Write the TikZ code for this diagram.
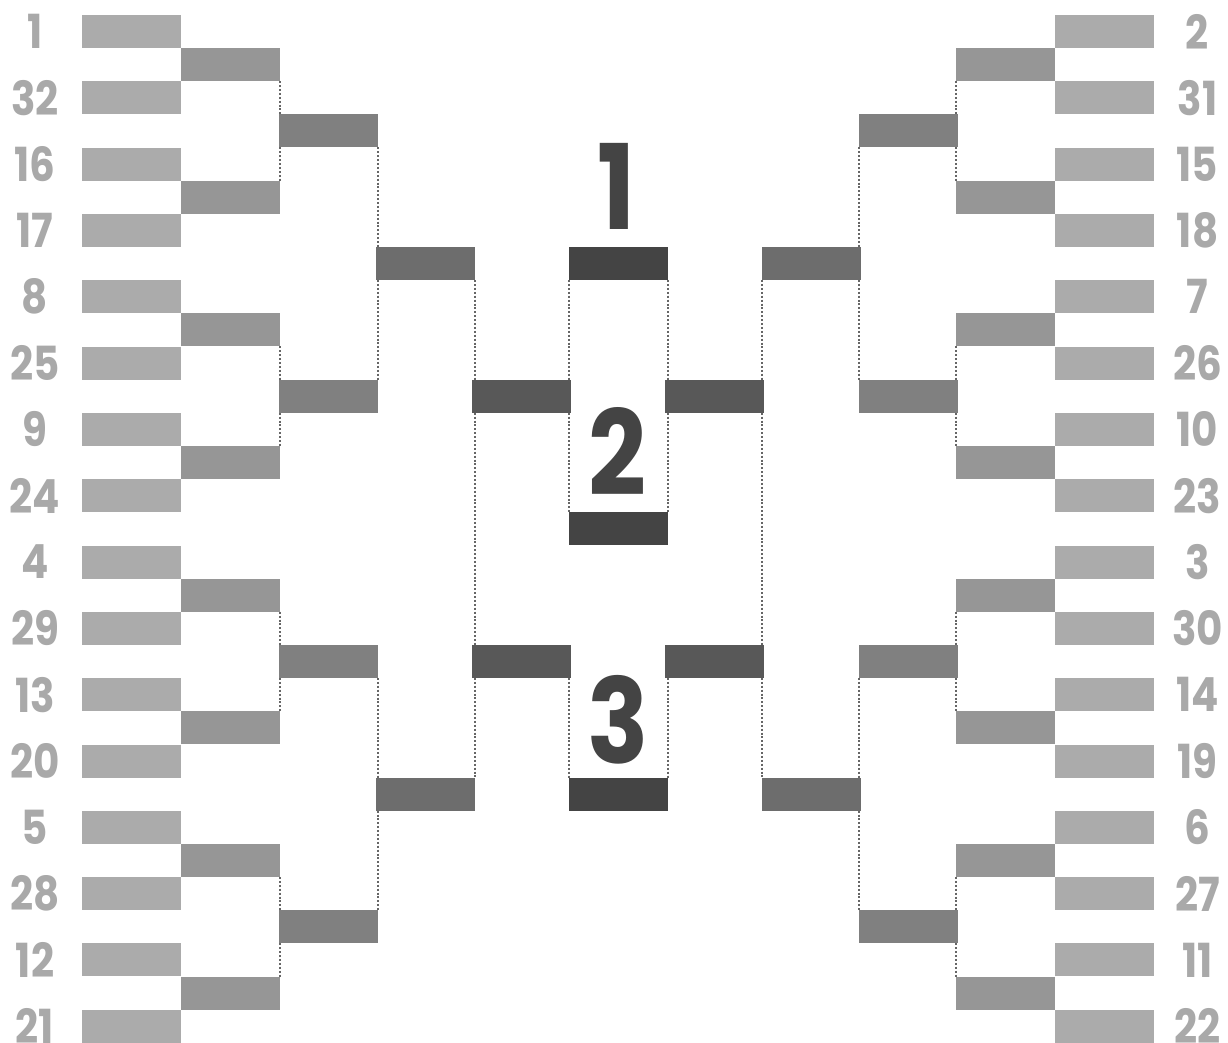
\documentclass[tikz,border=0pt]{standalone}
\usepackage{fontspec}
\newfontfamily\numfont{Poppins}[FakeStretch=0.86]
\usetikzlibrary{backgrounds}
\definecolor{rA}{HTML}{ABABAB}
\definecolor{rB}{HTML}{969696}
\definecolor{rC}{HTML}{808080}
\definecolor{rD}{HTML}{6D6D6D}
\definecolor{rE}{HTML}{585858}
\definecolor{rF}{HTML}{444444}
\definecolor{labc}{HTML}{A9A9A9}
\definecolor{dotc}{HTML}{666666}
\tikzset{
  box/.style={rectangle, inner sep=0pt, outer sep=0pt, minimum width=99pt, minimum height=33pt, anchor=north west},
  seedlab/.style={inner sep=0pt, anchor=center, text=labc, font=\numfont\bfseries\fontsize{47}{47}\selectfont},
  bignum/.style={inner sep=0pt, anchor=center, text=rF, font=\numfont\bfseries\fontsize{118}{118}\selectfont},
  conn/.style={draw=dotc, line width=2pt, dash pattern=on 2pt off 1.9pt}
}
\begin{document}
\begin{tikzpicture}[x=1pt,y=-1pt]
\useasboundingbox (0,0) rectangle (1228,1043);
% left side
\foreach \lab [count=\i from 0] in {1,32,16,17,8,25,9,24,4,29,13,20,5,28,12,21}{
  \node[box, fill=rA] (L1-\i) at (82,{15+33.16*2*\i}) {};
  \node[seedlab] (LL-\i) at (35,{31.5+33.16*2*\i}) {\lab};
}
\foreach \lab [count=\i from 0] in {2,31,15,18,7,26,10,23,3,30,14,19,6,27,11,22}{
  \node[box, fill=rA] (R1-\i) at (1055,{15+33.16*2*\i}) {};
  \node[seedlab] (RL-\i) at (1197.5,{31.5+33.16*2*\i}) {\lab};
}
\foreach \i in {0,...,7}{
  \node[box, fill=rB] (L2-\i) at (181,{15+33.16*(4*\i+1)}) {};
  \node[box, fill=rB] (R2-\i) at (956,{15+33.16*(4*\i+1)}) {};
}
\foreach \i in {0,...,3}{
  \node[box, fill=rC] (L3-\i) at (278.5,{15+33.16*(8*\i+3)}) {};
  \node[box, fill=rC] (R3-\i) at (858.5,{15+33.16*(8*\i+3)}) {};
}
\foreach \i in {0,1}{
  \node[box, fill=rD] (L4-\i) at (375.5,{15+33.16*(16*\i+7)}) {};
  \node[box, fill=rD] (R4-\i) at (761.5,{15+33.16*(16*\i+7)}) {};
  \node[box, fill=rE] (L5-\i) at (472,{15+33.16*(8*\i+11)}) {};
  \node[box, fill=rE] (R5-\i) at (665,{15+33.16*(8*\i+11)}) {};
}
\node[box, fill=rF] (F) at (568.5,{15+33.16*7}) {};
\node[box, fill=rF] (S) at (568.5,{15+33.16*15}) {};
\node[box, fill=rF] (T) at (568.5,{15+33.16*23}) {};
\node[bignum] (N1) at (617,186) {1};
\node[bignum] (N2) at (617,451) {2};
\node[bignum] (N3) at (618,720) {3};
% connectors
\begin{scope}[on background layer]
\fill[white] (0,0) rectangle (1228,1043);
\foreach \a/\b in {0/1,2/3,4/5,6/7}{
  \draw[conn] (L2-\a.south east) -- (L2-\b.north east);
  \draw[conn] (R2-\a.south west) -- (R2-\b.north west);
}
\foreach \a/\b in {0/1,2/3}{
  \draw[conn] (L3-\a.south east) -- (L3-\b.north east);
  \draw[conn] (R3-\a.south west) -- (R3-\b.north west);
}
\draw[conn] (L4-0.south east) -- (L4-1.north east);
\draw[conn] (R4-0.south west) -- (R4-1.north west);
\draw[conn] (F.south west) -- (S.north west);
\draw[conn] (F.south east) -- (S.north east);
\draw[conn] (T.north west |- L5-1.south) -- (T.north west);
\draw[conn] (T.north east |- R5-1.south) -- (T.north east);
\end{scope}
\end{tikzpicture}
\end{document}
